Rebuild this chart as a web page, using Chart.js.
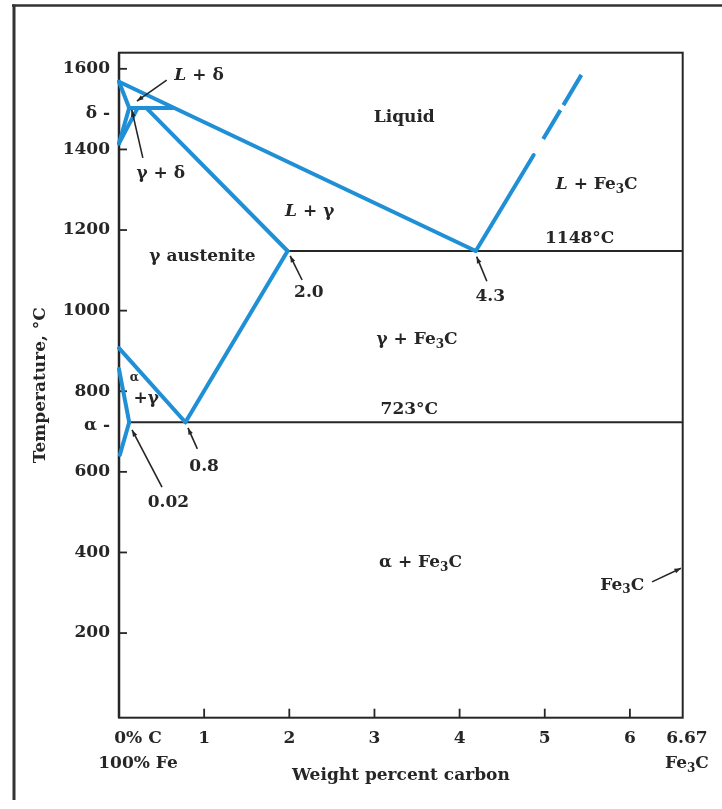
<!DOCTYPE html>
<html>
<head>
<meta charset="utf-8">
<style>
  html, body { margin: 0; padding: 0; background: #ffffff; }
  #wrap { width: 722px; height: 809px; position: relative; }
</style>
<script src="https://cdn.jsdelivr.net/npm/chart.js@4.4.1/dist/chart.umd.min.js"></script>
</head>
<body>
<div id="wrap"><canvas id="c" width="722" height="809"></canvas></div>
<script>
// ---------------- data (weight % C, temperature °C) ----------------
const liquidusX       = [0, 4.19];      const liquidusY       = [1568, 1148];
const deltaSolidusX   = [0, 0.12];      const deltaSolidusY   = [1568, 1503];
const peritecticX     = [0.12, 0.63];   const peritecticY     = [1503, 1503];
const deltaBoundaryX  = [0.12, 0];      const deltaBoundaryY  = [1503, 1415];
const gammaDeltaX     = [0.22, 0];      const gammaDeltaY     = [1503, 1415];
const gammaSolidusX   = [0.32, 1.98];   const gammaSolidusY   = [1503, 1148];
const acmX            = [1.98, 0.78];   const acmY            = [1148, 723];
const a3X             = [0, 0.78];      const a3Y             = [907, 723];
const alphaBoundaryX  = [0, 0.12];      const alphaBoundaryY  = [855, 723];
const solvusX         = [0.12, 0.01];   const solvusY         = [723, 642];
const cementiteLiqX   = [4.19, 4.87];   const cementiteLiqY   = [1148, 1386];
const cementiteDashX  = [4.87, 5.43];   const cementiteDashY  = [1386, 1585];
const eutecticX       = [1.98, 6.62];   const eutecticY       = [1148, 1148];
const eutectoidX      = [0.12, 6.62];   const eutectoidY      = [723, 723];

const yTickValues = [200, 400, 600, 715, 800, 1000, 1200, 1400, 1490, 1600];
const yTickLabels = ['200', '400', '600', 'α -', '800', '1000', '1200', '1400', 'δ -', '1600'];
const yTickMarked = [true, true, true, false, true, true, true, true, false, true];
const xTickValues = [0, 1, 2, 3, 4, 5, 6, 6.67];
const xTickLabels = [['0% C', '100% Fe'], ['1'], ['2'], ['3'], ['4'], ['5'], ['6'], ['6.67', 'Fe₃C']];
const xTickMarked = [false, true, true, true, true, true, true, false];

// region labels: text ('*' toggles italic, '₃' is a subscript 3), anchor in data units
const regionLabels = [
  { text: '*L* + δ',      x: 0.94, y: 1582 },
  { text: 'γ + δ',        x: 0.49, y: 1341 },
  { text: 'Liquid',       x: 3.35, y: 1480 },
  { text: '*L* + γ',      x: 2.24, y: 1245 },
  { text: 'γ austenite',  x: 0.98, y: 1133 },
  { text: '2.0',          x: 2.23, y: 1046 },
  { text: '4.3',          x: 4.36, y: 1036 },
  { text: '*L* + Fe₃C',   x: 5.61, y: 1312 },
  { text: '1148°C',       x: 5.41, y: 1180 },
  { text: 'γ + Fe₃C',     x: 3.50, y: 927 },
  { text: '723°C',        x: 3.41, y: 754 },
  { text: 'α',            x: 0.18, y: 832, small: true },
  { text: '+γ',           x: 0.32, y: 783 },
  { text: '0.8',          x: 1.00, y: 612 },
  { text: '0.02',         x: 0.58, y: 525 },
  { text: 'α + Fe₃C',     x: 3.54, y: 374 },
  { text: 'Fe₃C',         x: 5.91, y: 319 }
];
// pointer arrows: from (x1,y1) to (x2,y2) in data units
const arrows = [
  { x1: 0.56, y1: 1572, x2: 0.21, y2: 1520 },
  { x1: 0.28, y1: 1379, x2: 0.15, y2: 1498 },
  { x1: 2.15, y1: 1076, x2: 2.01, y2: 1136 },
  { x1: 4.32, y1: 1073, x2: 4.20, y2: 1134 },
  { x1: 0.92, y1: 657,  x2: 0.81, y2: 709 },
  { x1: 0.505, y1: 562, x2: 0.153, y2: 704 },
  { x1: 6.26, y1: 327,  x2: 6.60, y2: 361 }
];

// ---------------- styles ----------------
const BLUE = '#1f8fd6';
const INK = '#262626';
const FONT = '"DejaVu Serif", "Liberation Serif", serif';
const FS = 17;

function pts(xs, ys) { return xs.map((x, i) => ({ x: x, y: ys[i] })); }
function blue(label, xs, ys, extra) {
  return Object.assign({
    label: label, data: pts(xs, ys), showLine: true, borderColor: BLUE, backgroundColor: BLUE,
    borderWidth: 4, pointRadius: 0, fill: false, clip: false, borderCapStyle: 'round', borderJoinStyle: 'round'
  }, extra || {});
}
function black(label, xs, ys) {
  return { label: label, data: pts(xs, ys), showLine: true, borderColor: INK, borderWidth: 2,
           pointRadius: 0, fill: false, clip: false };
}

function runs(text) {
  const out = []; let italic = false;
  for (const ch of text) {
    if (ch === '*') { italic = !italic; continue; }
    const sub = ch === '₃';
    const c = sub ? '3' : ch;
    const last = out[out.length - 1];
    if (last && last.italic === italic && last.sub === sub) last.t += c;
    else out.push({ t: c, italic: italic, sub: sub });
  }
  return out;
}
function fontFor(r, size) {
  const s = r.sub ? Math.round(size * 0.72) : size;
  return (r.italic ? 'italic ' : '') + 'bold ' + s + 'px ' + FONT;
}
function drawRich(ctx, text, cx, cy, size) {
  const rs = runs(text);
  let w = 0;
  rs.forEach(r => { ctx.font = fontFor(r, size); r.w = ctx.measureText(r.t).width; w += r.w; });
  let x = cx - w / 2;
  ctx.textAlign = 'left'; ctx.textBaseline = 'middle';
  rs.forEach(r => {
    ctx.font = fontFor(r, size);
    ctx.fillText(r.t, x, cy + (r.sub ? size * 0.3 : 0));
    x += r.w;
  });
}
function drawArrow(ctx, x1, y1, x2, y2) {
  ctx.beginPath(); ctx.moveTo(x1, y1); ctx.lineTo(x2, y2); ctx.stroke();
  const a = Math.atan2(y2 - y1, x2 - x1), h = 7;
  ctx.beginPath();
  ctx.moveTo(x2, y2);
  ctx.lineTo(x2 - h * Math.cos(a - 0.35), y2 - h * Math.sin(a - 0.35));
  ctx.lineTo(x2 - h * Math.cos(a + 0.35), y2 - h * Math.sin(a + 0.35));
  ctx.closePath(); ctx.fill();
}

const framePlugin = {
  id: 'frame',
  beforeDraw(chart) {
    const ctx = chart.ctx;
    ctx.save();
    ctx.fillStyle = '#ffffff';
    ctx.fillRect(0, 0, chart.width, chart.height);
    ctx.strokeStyle = '#333333';
    ctx.lineWidth = 2.5;
    ctx.beginPath(); ctx.moveTo(12, 5.5); ctx.lineTo(722, 5.5); ctx.stroke();
    ctx.lineWidth = 3;
    ctx.beginPath(); ctx.moveTo(14, 4.5); ctx.lineTo(14, 800); ctx.stroke();
    ctx.restore();
  },
  beforeDatasetsDraw(chart) {
    const ctx = chart.ctx, a = chart.chartArea, xs = chart.scales.x, ys = chart.scales.y;
    ctx.save();
    ctx.strokeStyle = INK;
    ctx.lineWidth = 2;
    ctx.strokeRect(a.left, a.top, a.right - a.left, a.bottom - a.top);
    ctx.lineWidth = 2.5;
    ctx.beginPath(); ctx.moveTo(a.left, a.top); ctx.lineTo(a.left, a.bottom); ctx.stroke();
    // inward tick marks
    ctx.lineWidth = 1.8;
    xTickValues.forEach((v, i) => {
      if (!xTickMarked[i]) return;
      const px = xs.getPixelForValue(v);
      ctx.beginPath(); ctx.moveTo(px, a.bottom); ctx.lineTo(px, a.bottom - 9); ctx.stroke();
    });
    yTickValues.forEach((v, i) => {
      if (!yTickMarked[i]) return;
      const py = ys.getPixelForValue(v);
      ctx.beginPath(); ctx.moveTo(a.left, py); ctx.lineTo(a.left + 8, py); ctx.stroke();
    });
    ctx.restore();
  },
  afterDraw(chart) {
    const ctx = chart.ctx, a = chart.chartArea, xs = chart.scales.x, ys = chart.scales.y;
    ctx.save();
    ctx.fillStyle = INK; ctx.strokeStyle = INK;
    // x tick labels
    xTickValues.forEach((v, i) => {
      const px = xs.getPixelForValue(v) + (i === 0 ? 19 : 0);
      xTickLabels[i].forEach((line, j) => drawRich(ctx, line, px, a.bottom + 21 + j * 25, FS));
    });
    // region labels
    regionLabels.forEach(l => {
      drawRich(ctx, l.text, xs.getPixelForValue(l.x), ys.getPixelForValue(l.y), l.small ? 12 : FS);
    });
    // arrows
    ctx.lineWidth = 1.6;
    arrows.forEach(r => drawArrow(ctx, xs.getPixelForValue(r.x1), ys.getPixelForValue(r.y1),
                                       xs.getPixelForValue(r.x2), ys.getPixelForValue(r.y2)));
    ctx.restore();
  }
};

new Chart(document.getElementById('c'), {
  type: 'scatter',
  data: {
    datasets: [
      blue('Liquidus', liquidusX, liquidusY),
      blue('δ solidus', deltaSolidusX, deltaSolidusY),
      blue('Peritectic', peritecticX, peritecticY),
      blue('δ / γ+δ', deltaBoundaryX, deltaBoundaryY),
      blue('γ / γ+δ', gammaDeltaX, gammaDeltaY),
      blue('γ solidus', gammaSolidusX, gammaSolidusY),
      blue('Acm', acmX, acmY),
      blue('A3', a3X, a3Y),
      blue('α / α+γ', alphaBoundaryX, alphaBoundaryY),
      blue('Solvus', solvusX, solvusY),
      blue('Fe3C liquidus', cementiteLiqX, cementiteLiqY),
      blue('Fe3C liquidus (dashed)', cementiteDashX, cementiteDashY,
           { borderDash: [0, 18.6, 33.7, 5.8, 36, 200], borderCapStyle: 'butt' }),
      black('1148 °C', eutecticX, eutecticY),
      black('723 °C', eutectoidX, eutectoidY)
    ]
  },
  options: {
    responsive: false,
    animation: false,
    devicePixelRatio: 1,
    layout: { padding: { left: 14, right: 39.3, top: 52.7, bottom: 0 } },
    plugins: { legend: { display: false }, tooltip: { enabled: false } },
    scales: {
      x: {
        type: 'linear', min: 0, max: 6.62,
        afterFit: s => { s.height = 91.3; },
        ticks: { display: false },
        grid: { display: false, drawTicks: false },
        border: { display: false },
        title: { display: true, text: 'Weight percent carbon', color: INK,
                 font: { family: FONT, size: FS, weight: 'bold' }, padding: { top: 0, bottom: 23 } }
      },
      y: {
        type: 'linear', min: -10, max: 1640,
        afterBuildTicks: s => { s.ticks = yTickValues.map(v => ({ value: v })); },
        afterFit: s => { s.width = 105; },
        ticks: { autoSkip: false, padding: 9, color: INK,
                 font: { family: FONT, size: FS, weight: 'bold' },
                 callback: (v, i) => yTickLabels[i] },
        grid: { display: false, drawTicks: false },
        border: { display: false },
        title: { display: true, text: 'Temperature, °C', color: INK,
                 font: { family: FONT, size: FS, weight: 'bold' }, padding: { top: 16, bottom: 0 } }
      }
    }
  },
  plugins: [framePlugin]
});
</script>
</body>
</html>
